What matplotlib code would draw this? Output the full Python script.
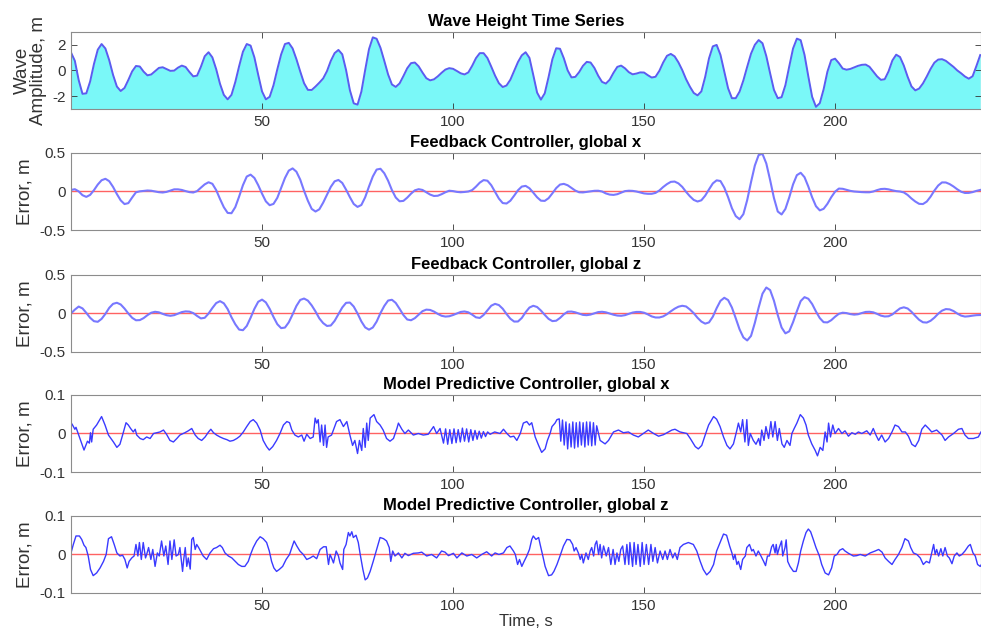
import numpy as np
import matplotlib
matplotlib.use("Agg")
import matplotlib.pyplot as plt

plt.rcParams['font.family'] = ['Liberation Sans', 'DejaVu Sans']
plt.rcParams['axes.unicode_minus'] = False

# time base of the smooth series, one sample per second
t_sec = np.arange(0, 239)

wave = [1.4, 0.75, -0.74, -1.82, -1.78, -0.86, 0.50, 1.62, 2.06, 1.71,
        0.80, -0.34, -1.25, -1.6, -1.36, -0.74, -0.07, 0.35, 0.31, -0.09,
        -0.38, -0.31, -0.05, 0.20, 0.25, 0.11, -0.03, -0.01, 0.22, 0.38,
        0.27, -0.12, -0.46, -0.40, 0.29, 1.11, 1.42, 1.02, 0.10, -1.04,
        -1.90, -2.25, -1.90, -0.90, 0.33, 1.46, 2.06, 1.94, 1.02, -0.34,
        -1.63, -2.25, -2.05, -1.15, 0.09, 1.25, 2.06, 2.15, 1.72, 0.88,
        -0.08, -0.99, -1.51, -1.52, -1.25, -0.95, -0.62, -0.05, 0.75, 1.35,
        1.6, 1.26, 0.03, -1.54, -2.56, -2.66, -1.65, 0.04, 1.66, 2.58,
        2.47, 1.77, 0.75, -0.31, -1.09, -1.28, -1.01, -0.44, 0.17, 0.57,
        0.62, 0.32, -0.16, -0.60, -0.77, -0.69, -0.46, -0.18, 0.07, 0.18,
        0.13, -0.04, -0.22, -0.31, -0.15, 0.36, 0.96, 1.35, 1.35, 0.97,
        0.30, -0.40, -0.99, -1.29, -1.17, -0.72, -0.04, 0.66, 1.18, 1.42,
        0.98, -0.35, -1.72, -2.27, -1.78, -0.52, 0.87, 1.73, 1.69, 0.95,
        0.01, -0.54, -0.50, -0.13, 0.36, 0.67, 0.62, 0.20, -0.41, -0.89,
        -1.02, -0.72, -0.18, 0.28, 0.38, 0.17, -0.13, -0.30, -0.24, -0.15,
        -0.16, -0.37, -0.55, -0.49, -0.03, 0.62, 1.14, 1.29, 1.10, 0.63,
        0.03, -0.68, -1.26, -1.75, -1.94, -1.63, -0.50, 0.94, 1.88, 1.99,
        1.22, -0.10, -1.39, -2.16, -2.16, -1.65, -0.77, 0.29, 1.31, 2.00,
        2.37, 2.12, 1.12, -0.22, -1.51, -2.16, -2.08, -1.14, 0.31, 1.71,
        2.48, 2.36, 1.22, -0.46, -2.05, -2.83, -2.55, -1.47, -0.09, 0.81,
        0.92, 0.57, 0.15, 0.06, 0.12, 0.24, 0.36, 0.44, 0.46, 0.29,
        -0.08, -0.46, -0.73, -0.68, -0.07, 0.78, 1.23, 1.05, 0.38, -0.49,
        -1.24, -1.55, -1.41, -1.01, -0.47, 0.12, 0.61, 0.85, 0.88, 0.75,
        0.52, 0.28, 0.0, -0.22, -0.47, -0.64, -0.45, 0.35, 1.2]

fb_x = [0.02, 0.03, 0.002, -0.048, -0.07, -0.044, 0.017, 0.09, 0.146, 0.165,
        0.134, 0.06, -0.033, -0.115, -0.163, -0.151, -0.078, -0.01, 0.002, 0.008,
        0.013, 0.01, 0.0, -0.009, -0.013, -0.005, 0.012, 0.028, 0.028, 0.02,
        0.005, -0.008, -0.013, 0.005, 0.05, 0.093, 0.12, 0.1, 0.018, -0.097,
        -0.204, -0.278, -0.282, -0.203, -0.066, 0.082, 0.194, 0.219, 0.176, 0.082,
        -0.028, -0.128, -0.178, -0.161, -0.082, 0.046, 0.175, 0.271, 0.3, 0.257,
        0.154, 0.009, -0.12, -0.226, -0.26, -0.231, -0.145, -0.043, 0.06, 0.132,
        0.15, 0.111, 0.024, -0.074, -0.162, -0.2, -0.175, -0.075, 0.065, 0.195,
        0.285, 0.295, 0.237, 0.14, 0.018, -0.078, -0.127, -0.122, -0.08, -0.028,
        0.015, 0.03, 0.02, -0.01, -0.04, -0.058, -0.055, -0.035, -0.01, 0.01,
        0.005, -0.005, -0.01, -0.006, 0.0, 0.018, 0.063, 0.115, 0.148, 0.14,
        0.082, -0.005, -0.092, -0.15, -0.156, -0.12, -0.054, 0.016, 0.064, 0.073,
        0.042, -0.015, -0.075, -0.119, -0.122, -0.087, -0.024, 0.044, 0.09, 0.099,
        0.081, 0.047, 0.012, -0.01, -0.012, -0.005, 0.003, 0.009, 0.01, 0.0,
        -0.025, -0.04, -0.044, -0.035, -0.015, 0.005, 0.01, 0.008, 0.0, -0.012,
        -0.025, -0.03, -0.03, -0.018, 0.013, 0.058, 0.096, 0.125, 0.129, 0.105,
        0.06, -0.005, -0.062, -0.109, -0.13, -0.114, -0.054, 0.027, 0.105, 0.145,
        0.136, 0.05, -0.074, -0.217, -0.319, -0.36, -0.294, -0.111, 0.122, 0.337,
        0.474, 0.488, 0.364, 0.148, -0.084, -0.26, -0.298, -0.226, -0.077, 0.092,
        0.212, 0.243, 0.186, 0.064, -0.076, -0.191, -0.245, -0.225, -0.16, -0.074,
        -0.002, 0.038, 0.035, 0.022, 0.008, 0.0, -0.004, -0.008, -0.01, -0.01,
        0.0, 0.018, 0.032, 0.035, 0.028, 0.015, 0.005, 0.0, -0.012, -0.045,
        -0.091, -0.13, -0.16, -0.163, -0.131, -0.067, 0.012, 0.078, 0.118, 0.117,
        0.096, 0.065, 0.028, -0.003, -0.019, -0.018, -0.008, 0.008, 0.02]

fb_z = [0.0, 0.05, 0.09, 0.066, 0.008, -0.056, -0.1, -0.108, -0.07, -0.005,
        0.073, 0.125, 0.139, 0.117, 0.064, 0.0, -0.056, -0.088, -0.086, -0.06,
        -0.022, 0.01, 0.022, 0.015, -0.005, -0.022, -0.03, -0.022, -0.002, 0.018,
        0.027, 0.024, 0.005, -0.032, -0.064, -0.056, -0.001, 0.071, 0.135, 0.16,
        0.132, 0.057, -0.049, -0.14, -0.209, -0.217, -0.162, -0.056, 0.06, 0.152,
        0.18, 0.144, 0.06, -0.045, -0.139, -0.19, -0.183, -0.115, -0.012, 0.098,
        0.176, 0.194, 0.167, 0.105, 0.026, -0.064, -0.125, -0.162, -0.156, -0.096,
        -0.009, 0.078, 0.138, 0.142, 0.09, 0.0, -0.103, -0.181, -0.21, -0.182,
        -0.105, 0.005, 0.098, 0.168, 0.178, 0.137, 0.061, -0.02, -0.078, -0.088,
        -0.061, -0.016, 0.03, 0.05, 0.046, 0.025, -0.005, -0.03, -0.04, -0.036,
        -0.02, 0.0, 0.02, 0.026, 0.015, -0.015, -0.05, -0.058, -0.019, 0.042,
        0.101, 0.125, 0.109, 0.062, -0.007, -0.068, -0.105, -0.104, -0.058, 0.016,
        0.077, 0.1, 0.084, 0.038, -0.018, -0.07, -0.099, -0.094, -0.058, -0.011,
        0.023, 0.025, 0.015, -0.002, -0.018, -0.022, -0.014, 0.002, 0.018, 0.022,
        0.015, 0.0, -0.016, -0.027, -0.03, -0.022, -0.005, 0.012, 0.02, 0.02,
        0.01, -0.012, -0.038, -0.052, -0.052, -0.038, -0.009, 0.028, 0.062, 0.088,
        0.1, 0.091, 0.052, 0.004, -0.056, -0.105, -0.132, -0.116, -0.042, 0.069,
        0.164, 0.204, 0.174, 0.077, -0.062, -0.206, -0.311, -0.35, -0.291, -0.122,
        0.078, 0.257, 0.337, 0.304, 0.166, -0.02, -0.182, -0.258, -0.232, -0.113,
        0.029, 0.161, 0.212, 0.191, 0.123, 0.026, -0.06, -0.113, -0.116, -0.087,
        -0.042, -0.004, 0.01, 0.005, -0.008, -0.015, -0.01, 0.006, 0.02, 0.022,
        0.015, -0.005, -0.028, -0.039, -0.036, -0.012, 0.028, 0.066, 0.08, 0.065,
        0.022, -0.032, -0.082, -0.114, -0.118, -0.095, -0.054, -0.003, 0.037, 0.057,
        0.053, 0.032, -0.001, -0.028, -0.04, -0.036, -0.028, -0.022, -0.02]

# MPC traces, (time, error) points
mpc_x_pts = [
    (0, 0.028), (0.4, 0.022), (1.0, 0.011), (1.3, 0.016), (3.4, -0.043), (4.3, -0.02),
    (4.8, -0.025), (5.1, 0.002), (5.4, -0.022), (5.8, 0.011), (6.7, 0.022), (7.6, 0.037),
    (8.0, 0.044), (8.9, 0.022), (9.8, -0.004), (11.1, -0.022), (12.0, -0.036), (12.8, -0.028),
    (13.5, -0.004), (14.4, 0.028), (15.0, 0.022), (15.6, 0.013), (16.3, 0.004), (16.8, 0.011),
    (17.2, -0.004), (18.1, -0.013), (18.9, -0.016), (19.8, -0.009), (20.7, -0.013), (21.6, 0.0),
    (22.4, 0.002), (23.3, 0.004), (24.2, 0.009), (25.0, -0.002), (25.9, -0.018), (26.8, -0.022),
    (27.7, -0.013), (28.5, -0.004), (29.8, 0.002), (30.7, 0.007), (31.6, 0.013), (32.5, -0.004),
    (33.3, -0.013), (34.2, -0.018), (35.1, -0.009), (36.0, 0.004), (36.6, 0.011), (37.3, 0.002),
    (38.1, -0.004), (39.0, -0.009), (39.9, -0.013), (40.8, -0.016), (41.6, -0.02), (42.5, -0.018),
    (43.4, -0.013), (44.2, -0.007), (45.1, 0.004), (46.0, 0.018), (46.9, 0.031), (47.7, 0.036),
    (48.6, 0.027), (49.5, 0.009), (50.3, -0.018), (51.2, -0.034), (51.9, -0.043), (52.8, -0.034),
    (53.8, -0.018), (54.7, 0.0), (55.6, 0.022), (56.5, 0.031), (57.2, 0.028), (57.8, 0.009),
    (58.6, -0.004), (59.5, -0.009), (60.4, -0.004), (61.0, -0.02), (61.7, -0.002), (62.6, -0.013),
    (63.4, -0.009), (63.9, 0.04), (64.3, 0.027), (64.7, 0.036), (65.2, -0.022), (65.6, 0.022),
    (66.1, -0.031), (66.5, 0.022), (66.9, -0.036), (67.3, -0.009), (68.2, -0.004), (69.5, 0.031),
    (70.4, 0.036), (71.3, 0.018), (72.2, 0.031), (73.0, -0.004), (73.7, -0.031), (74.3, -0.018),
    (75.0, -0.052), (75.5, -0.018), (76.1, -0.044), (76.5, 0.013), (77.0, -0.036), (77.4, 0.027),
    (77.8, -0.018), (78.3, 0.04), (79.3, 0.049), (80.0, 0.031), (80.9, 0.022), (81.7, 0.009),
    (82.6, -0.013), (83.5, -0.02), (84.4, -0.013), (85.3, 0.013), (85.7, 0.027), (86.6, 0.011),
    (87.4, 0.0), (88.3, 0.009), (89.6, -0.004), (90.9, 0.0), (92.2, -0.004), (93.5, -0.002),
    (94.9, 0.018), (95.7, 0.0), (96.6, 0.013), (97.5, -0.025), (98.05, 0.012), (98.6, -0.028),
    (99.15, 0.01), (99.7, -0.026), (100.25, 0.012), (100.8, -0.024), (101.35, 0.01), (101.9, -0.022),
    (102.45, 0.014), (103.0, -0.02), (103.55, 0.012), (104.1, -0.022), (104.65, 0.01), (105.2, -0.018),
    (105.75, 0.008), (106.3, -0.015), (106.85, 0.006), (107.4, -0.012), (107.95, 0.005), (108.5, -0.008),
    (109.05, 0.004), (109.7, -0.002), (110.9, 0.004), (112.3, 0.0), (113.2, 0.011), (114.1, 0.0),
    (115.0, -0.009), (115.9, -0.007), (116.7, -0.018), (117.6, 0.0), (118.4, 0.027), (119.3, 0.031),
    (120.0, 0.022), (120.6, 0.028), (121.5, -0.009), (122.4, -0.031), (123.2, -0.049), (124.1, -0.04),
    (124.7, -0.018), (125.4, 0.0), (125.9, 0.018), (126.7, 0.027), (127.2, 0.036), (127.8, 0.038),
    (128.2, -0.02), (128.65, 0.035), (129.1, -0.03), (129.55, 0.03), (130.0, -0.04), (130.45, 0.025),
    (130.9, -0.035), (131.35, 0.03), (131.8, -0.038), (132.25, 0.028), (132.7, -0.035), (133.15, 0.03),
    (133.6, -0.03), (134.05, 0.028), (134.5, -0.035), (134.95, 0.03), (135.4, -0.03), (135.85, 0.03),
    (136.3, -0.032), (136.75, 0.028), (137.2, -0.03), (137.6, 0.02), (138.5, -0.018), (139.8, -0.027),
    (140.7, -0.018), (142.0, 0.004), (143.3, 0.009), (144.6, 0.002), (145.9, 0.004), (147.2, -0.004),
    (148.5, -0.009), (149.8, 0.0), (151.1, 0.009), (152.5, 0.0), (153.8, -0.007), (155.1, -0.003),
    (156.4, 0.004), (157.3, 0.009), (158.1, 0.011), (159.4, 0.004), (161.2, 0.0), (162.1, -0.013),
    (163.4, -0.034), (164.2, -0.04), (165.1, -0.031), (166.0, -0.004), (166.9, 0.022), (168.2, 0.044),
    (169.0, 0.037), (169.9, 0.018), (170.8, -0.009), (171.7, -0.031), (172.5, -0.04), (173.4, -0.027),
    (174.3, 0.009), (174.7, 0.027), (175.3, 0.004), (175.8, 0.036), (176.4, -0.022), (176.9, 0.036),
    (177.3, -0.031), (177.8, 0.0), (178.6, -0.018), (179.3, -0.028), (180.0, -0.013), (180.4, -0.031),
    (180.8, 0.009), (181.4, -0.018), (181.9, 0.018), (182.6, -0.013), (183.2, 0.031), (183.7, -0.009),
    (184.3, 0.031), (184.9, -0.018), (185.4, 0.013), (186.1, -0.027), (186.7, -0.036), (187.4, -0.018),
    (188.2, -0.031), (188.7, 0.0), (189.3, 0.013), (190.0, 0.027), (190.9, 0.049), (191.7, 0.04),
    (192.4, 0.022), (193.0, -0.004), (193.9, -0.027), (194.8, -0.044), (195.4, -0.058), (196.1, -0.036),
    (196.8, -0.044), (197.4, 0.004), (197.9, -0.022), (198.3, 0.027), (198.8, -0.009), (199.4, 0.022),
    (200.0, 0.0), (200.9, 0.013), (201.8, 0.0), (202.6, 0.007), (203.5, -0.007), (204.4, 0.002),
    (205.3, -0.002), (206.1, 0.004), (207.0, 0.0), (208.3, 0.007), (209.2, -0.004), (210.0, 0.013),
    (210.7, -0.004), (211.4, -0.018), (212.2, -0.004), (213.1, -0.022), (214.0, -0.013), (214.9, 0.004),
    (215.7, 0.022), (216.6, 0.018), (217.5, 0.004), (218.4, 0.004), (219.2, -0.007), (220.1, -0.028),
    (221.0, -0.034), (221.9, -0.018), (222.7, 0.011), (223.6, 0.022), (224.5, 0.013), (225.3, 0.004),
    (226.6, 0.009), (228.0, -0.004), (228.8, -0.018), (229.7, -0.009), (231.0, 0.0), (232.3, 0.011),
    (233.2, 0.013), (234.0, -0.004), (234.9, -0.013), (236.2, -0.013), (237.5, -0.009), (238.2, 0.004)]

mpc_z_pts = [
    (0, 0.004), (0.6, 0.026), (1.3, 0.048), (2.2, 0.048), (2.8, 0.039), (3.4, 0.024), (3.9, 0.018),
    (4.5, -0.004), (5.1, -0.039), (5.8, -0.055), (6.7, -0.048), (7.6, -0.035), (8.5, -0.018),
    (9.2, 0.0), (9.8, 0.041), (10.6, 0.046), (11.3, 0.026), (12.0, 0.004), (12.8, -0.004),
    (13.5, -0.002), (14.1, -0.013), (14.7, -0.035), (15.2, -0.018), (15.9, -0.009), (16.5, -0.004),
    (17.0, 0.026), (17.5, -0.004), (17.9, 0.031), (18.4, -0.013), (18.9, 0.031), (19.5, -0.009),
    (19.8, 0.0), (20.3, 0.018), (20.9, -0.013), (21.4, 0.013), (22.0, -0.031), (22.6, 0.004),
    (23.1, -0.004), (23.7, 0.035), (24.3, -0.004), (24.8, 0.022), (25.4, -0.026), (25.9, 0.035),
    (26.4, -0.013), (27.0, 0.038), (27.5, -0.004), (28.1, 0.0), (28.5, 0.018), (29.2, -0.044),
    (29.5, -0.013), (29.9, 0.018), (30.3, -0.031), (30.7, -0.009), (31.2, -0.038), (31.6, 0.039),
    (32.0, 0.044), (32.5, 0.013), (32.9, 0.026), (33.4, 0.018), (33.9, 0.009), (34.6, -0.004),
    (35.5, -0.013), (36.4, 0.004), (37.3, 0.015), (38.1, 0.018), (39.0, 0.024), (39.6, 0.018),
    (40.3, 0.004), (41.2, -0.004), (42.1, -0.009), (43.0, -0.018), (43.8, -0.026), (44.7, -0.031),
    (45.5, -0.031), (46.4, -0.018), (47.0, 0.0), (47.7, 0.018), (48.6, 0.035), (49.5, 0.046),
    (50.3, 0.041), (51.2, 0.031), (51.9, 0.009), (52.5, -0.018), (53.1, -0.035), (53.8, -0.044),
    (54.5, -0.039), (55.4, -0.031), (56.3, -0.013), (57.2, 0.0), (57.8, 0.018), (58.4, 0.035),
    (59.1, 0.022), (59.9, 0.009), (60.8, 0.0), (61.7, -0.013), (62.6, -0.009), (63.4, -0.004),
    (64.3, -0.011), (65.2, 0.013), (66.1, 0.02), (66.8, 0.02), (67.4, -0.026), (67.8, 0.0),
    (68.2, -0.009), (68.7, -0.022), (69.4, 0.009), (70.0, -0.004), (70.4, -0.022), (71.1, -0.039),
    (71.4, 0.013), (72.0, 0.026), (72.6, 0.057), (73.0, 0.048), (73.5, 0.059), (73.9, 0.044),
    (74.6, 0.05), (75.2, 0.031), (75.7, 0.0), (76.4, -0.039), (77.0, -0.066), (77.6, -0.061),
    (78.3, -0.044), (79.1, -0.018), (80.0, 0.013), (80.9, 0.044), (81.8, 0.041), (82.6, 0.035),
    (83.3, 0.018), (83.7, -0.018), (84.2, 0.009), (84.8, -0.004), (85.7, 0.004), (86.6, -0.009),
    (87.4, 0.003), (88.3, -0.003), (89.6, 0.003), (90.9, 0.004), (91.8, 0.006), (93.1, -0.004),
    (94.4, 0.0), (95.7, -0.009), (97.0, 0.009), (97.9, 0.006), (98.8, -0.003), (100.1, 0.003),
    (101.0, -0.009), (102.3, 0.004), (103.6, -0.004), (104.9, 0.0), (106.2, -0.009), (107.5, 0.0),
    (108.8, 0.007), (110.1, -0.004), (111.0, 0.004), (112.0, 0.0), (113.2, 0.004), (114.1, 0.018),
    (114.9, 0.022), (115.8, 0.009), (116.3, 0.0), (116.9, -0.026), (117.4, -0.013), (118.0, -0.031),
    (118.6, -0.018), (119.3, -0.004), (120.0, 0.013), (120.6, 0.039), (121.0, 0.048), (121.7, 0.039),
    (122.4, 0.044), (122.8, 0.026), (123.5, -0.004), (124.1, -0.031), (125.0, -0.055), (125.8, -0.053),
    (126.4, -0.044), (127.2, -0.026), (128.0, -0.004), (128.9, 0.022), (129.8, 0.039), (130.6, 0.038),
    (131.3, 0.026), (131.7, 0.009), (132.2, 0.018), (132.8, 0.004), (133.3, -0.013), (133.7, 0.0),
    (134.1, -0.022), (134.8, 0.004), (135.4, -0.013), (135.9, 0.009), (136.3, 0.018), (136.8, -0.004),
    (137.2, 0.026), (137.6, 0.035), (138.1, 0.0), (138.5, 0.026), (138.9, -0.009), (139.4, 0.022),
    (140.1, -0.004), (140.7, 0.018), (141.3, -0.026), (141.9, 0.013), (142.4, -0.026), (142.9, 0.004),
    (143.4, -0.018), (143.9, 0.013), (144.4, 0.022), (145.0, -0.026), (145.5, 0.026), (146.0, -0.026),
    (146.3, 0.031), (147.0, -0.031), (147.4, 0.031), (147.9, -0.026), (148.4, 0.026), (149.0, -0.031),
    (149.5, 0.031), (150.0, -0.026), (150.6, 0.026), (151.2, -0.026), (151.8, 0.026), (152.3, -0.018),
    (152.9, 0.018), (153.5, -0.022), (154.2, 0.009), (154.9, -0.013), (155.5, 0.009), (156.1, -0.013),
    (156.8, 0.013), (157.5, -0.009), (158.1, 0.004), (158.7, -0.013), (159.4, 0.018), (160.3, 0.026),
    (161.6, 0.031), (162.9, 0.026), (163.8, 0.009), (164.7, -0.018), (165.5, -0.039), (166.4, -0.053),
    (167.3, -0.044), (168.2, -0.026), (169.0, 0.009), (169.9, 0.031), (170.8, 0.053), (171.6, 0.05),
    (172.4, 0.022), (173.0, 0.004), (173.4, -0.013), (173.8, 0.0), (174.3, -0.026), (174.7, -0.018),
    (175.3, -0.039), (175.8, -0.013), (176.5, -0.004), (176.9, 0.018), (177.6, 0.026), (178.2, 0.009),
    (178.6, 0.013), (179.3, -0.004), (179.9, 0.009), (180.6, -0.004), (181.3, -0.018), (181.8, -0.029),
    (182.3, -0.004), (182.8, -0.004), (183.4, 0.02), (183.8, 0.026), (184.3, 0.004), (184.6, 0.026),
    (184.9, 0.0), (185.4, 0.018), (186.0, 0.035), (186.3, -0.004), (186.9, 0.018), (187.2, 0.038),
    (187.6, -0.018), (188.2, -0.031), (189.1, -0.044), (189.8, -0.044), (190.4, -0.022), (191.0, 0.009),
    (191.7, 0.035), (192.4, 0.057), (193.0, 0.066), (193.6, 0.059), (194.3, 0.039), (195.0, 0.018),
    (195.9, -0.004), (196.5, -0.026), (197.4, -0.048), (198.3, -0.053), (199.1, -0.035), (199.8, -0.004),
    (200.5, 0.0), (201.2, 0.011), (202.0, 0.015), (202.6, 0.009), (203.5, 0.003), (204.8, -0.004),
    (205.7, -0.003), (206.6, 0.0), (207.9, -0.004), (209.2, 0.004), (210.5, 0.009), (211.4, 0.013),
    (212.3, 0.006), (213.1, -0.009), (214.0, -0.018), (214.9, -0.026), (215.7, -0.013), (216.6, 0.0),
    (217.5, 0.018), (218.3, 0.041), (219.2, 0.035), (219.8, 0.018), (220.5, 0.004), (221.4, 0.0),
    (222.3, -0.009), (223.1, -0.026), (223.9, -0.018), (224.7, -0.022), (225.3, 0.004), (225.8, 0.026),
    (226.2, 0.0), (226.6, 0.013), (227.1, -0.004), (227.7, 0.015), (228.2, -0.004), (228.8, 0.018),
    (229.4, -0.004), (229.9, -0.009), (230.6, -0.024), (231.2, -0.004), (231.9, 0.004), (232.5, -0.004),
    (233.2, 0.0), (234.0, 0.009), (234.9, 0.022), (235.4, 0.026), (236.1, 0.004), (236.7, -0.004),
    (237.3, -0.026), (238.0, -0.031), (238.3, -0.026)]

titles = ['Wave Height Time Series',
          'Feedback Controller, global x',
          'Feedback Controller, global z',
          'Model Predictive Controller, global x',
          'Model Predictive Controller, global z']
x_ticks = [50, 100, 150, 200]

mpcx_t, mpcx_v = np.array(mpc_x_pts).T
mpcz_t, mpcz_v = np.array(mpc_z_pts).T

fig = plt.figure(figsize=(9.81, 6.34), dpi=100)
bottoms = [0.8281, 0.6372, 0.4448, 0.2555, 0.0647]
axs = [fig.add_axes([0.0724, b, 0.9276, 0.1215]) for b in bottoms]

def style(ax, lim, ticks, title):
    ax.set_xlim(0, 238.2)
    ax.set_ylim(lim)
    ax.set_xticks(x_ticks)
    ax.set_yticks(ticks)
    ax.tick_params(direction='in', top=True, right=True, length=4, width=0.6,
                   color='#333333', labelcolor='#333333', labelsize=11, pad=4)
    for s in ax.spines.values():
        s.set_color('#8c8c8c')
        s.set_linewidth(0.8)
    ax.set_title(title, fontsize=12, fontweight='bold', pad=4)

# wave height
ax = axs[0]
ax.fill_between(t_sec, wave, -3, color='#7af8f8', lw=0)
ax.plot(t_sec, wave, color='#5c5cf0', lw=1.4)
style(ax, (-3, 3), [-2, 0, 2], titles[0])
ax.set_ylabel('Wave\nAmplitude, m', fontsize=13.5, color='#333333', linespacing=0.95)
ax.yaxis.set_label_coords(-0.026, 0.5)

# feedback controller errors
for ax, err, ttl in [(axs[1], fb_x, titles[1]), (axs[2], fb_z, titles[2])]:
    ax.axhline(0, color='#ff6262', lw=1.0)
    ax.plot(t_sec, err, color='#7878ff', lw=1.5)
    style(ax, (-0.5, 0.5), [-0.5, 0, 0.5], ttl)
    ax.set_yticklabels(['-0.5', '0', '0.5'])

# MPC errors
for ax, tt, err, ttl in [(axs[3], mpcx_t, mpcx_v, titles[3]), (axs[4], mpcz_t, mpcz_v, titles[4])]:
    ax.axhline(0, color='#ff6262', lw=1.0)
    ax.plot(tt, err, color='#3a3aff', lw=1.0)
    style(ax, (-0.1, 0.1), [-0.1, 0, 0.1], ttl)
    ax.set_yticklabels(['-0.1', '0', '0.1'])

for ax in axs[1:]:
    ax.set_ylabel('Error, m', fontsize=13.5, color='#333333')
    ax.yaxis.set_label_coords(-0.041, 0.5)

axs[4].set_xlabel('Time, s', fontsize=12, color='#333333', labelpad=1)

fig.savefig('out.png', dpi=100)
